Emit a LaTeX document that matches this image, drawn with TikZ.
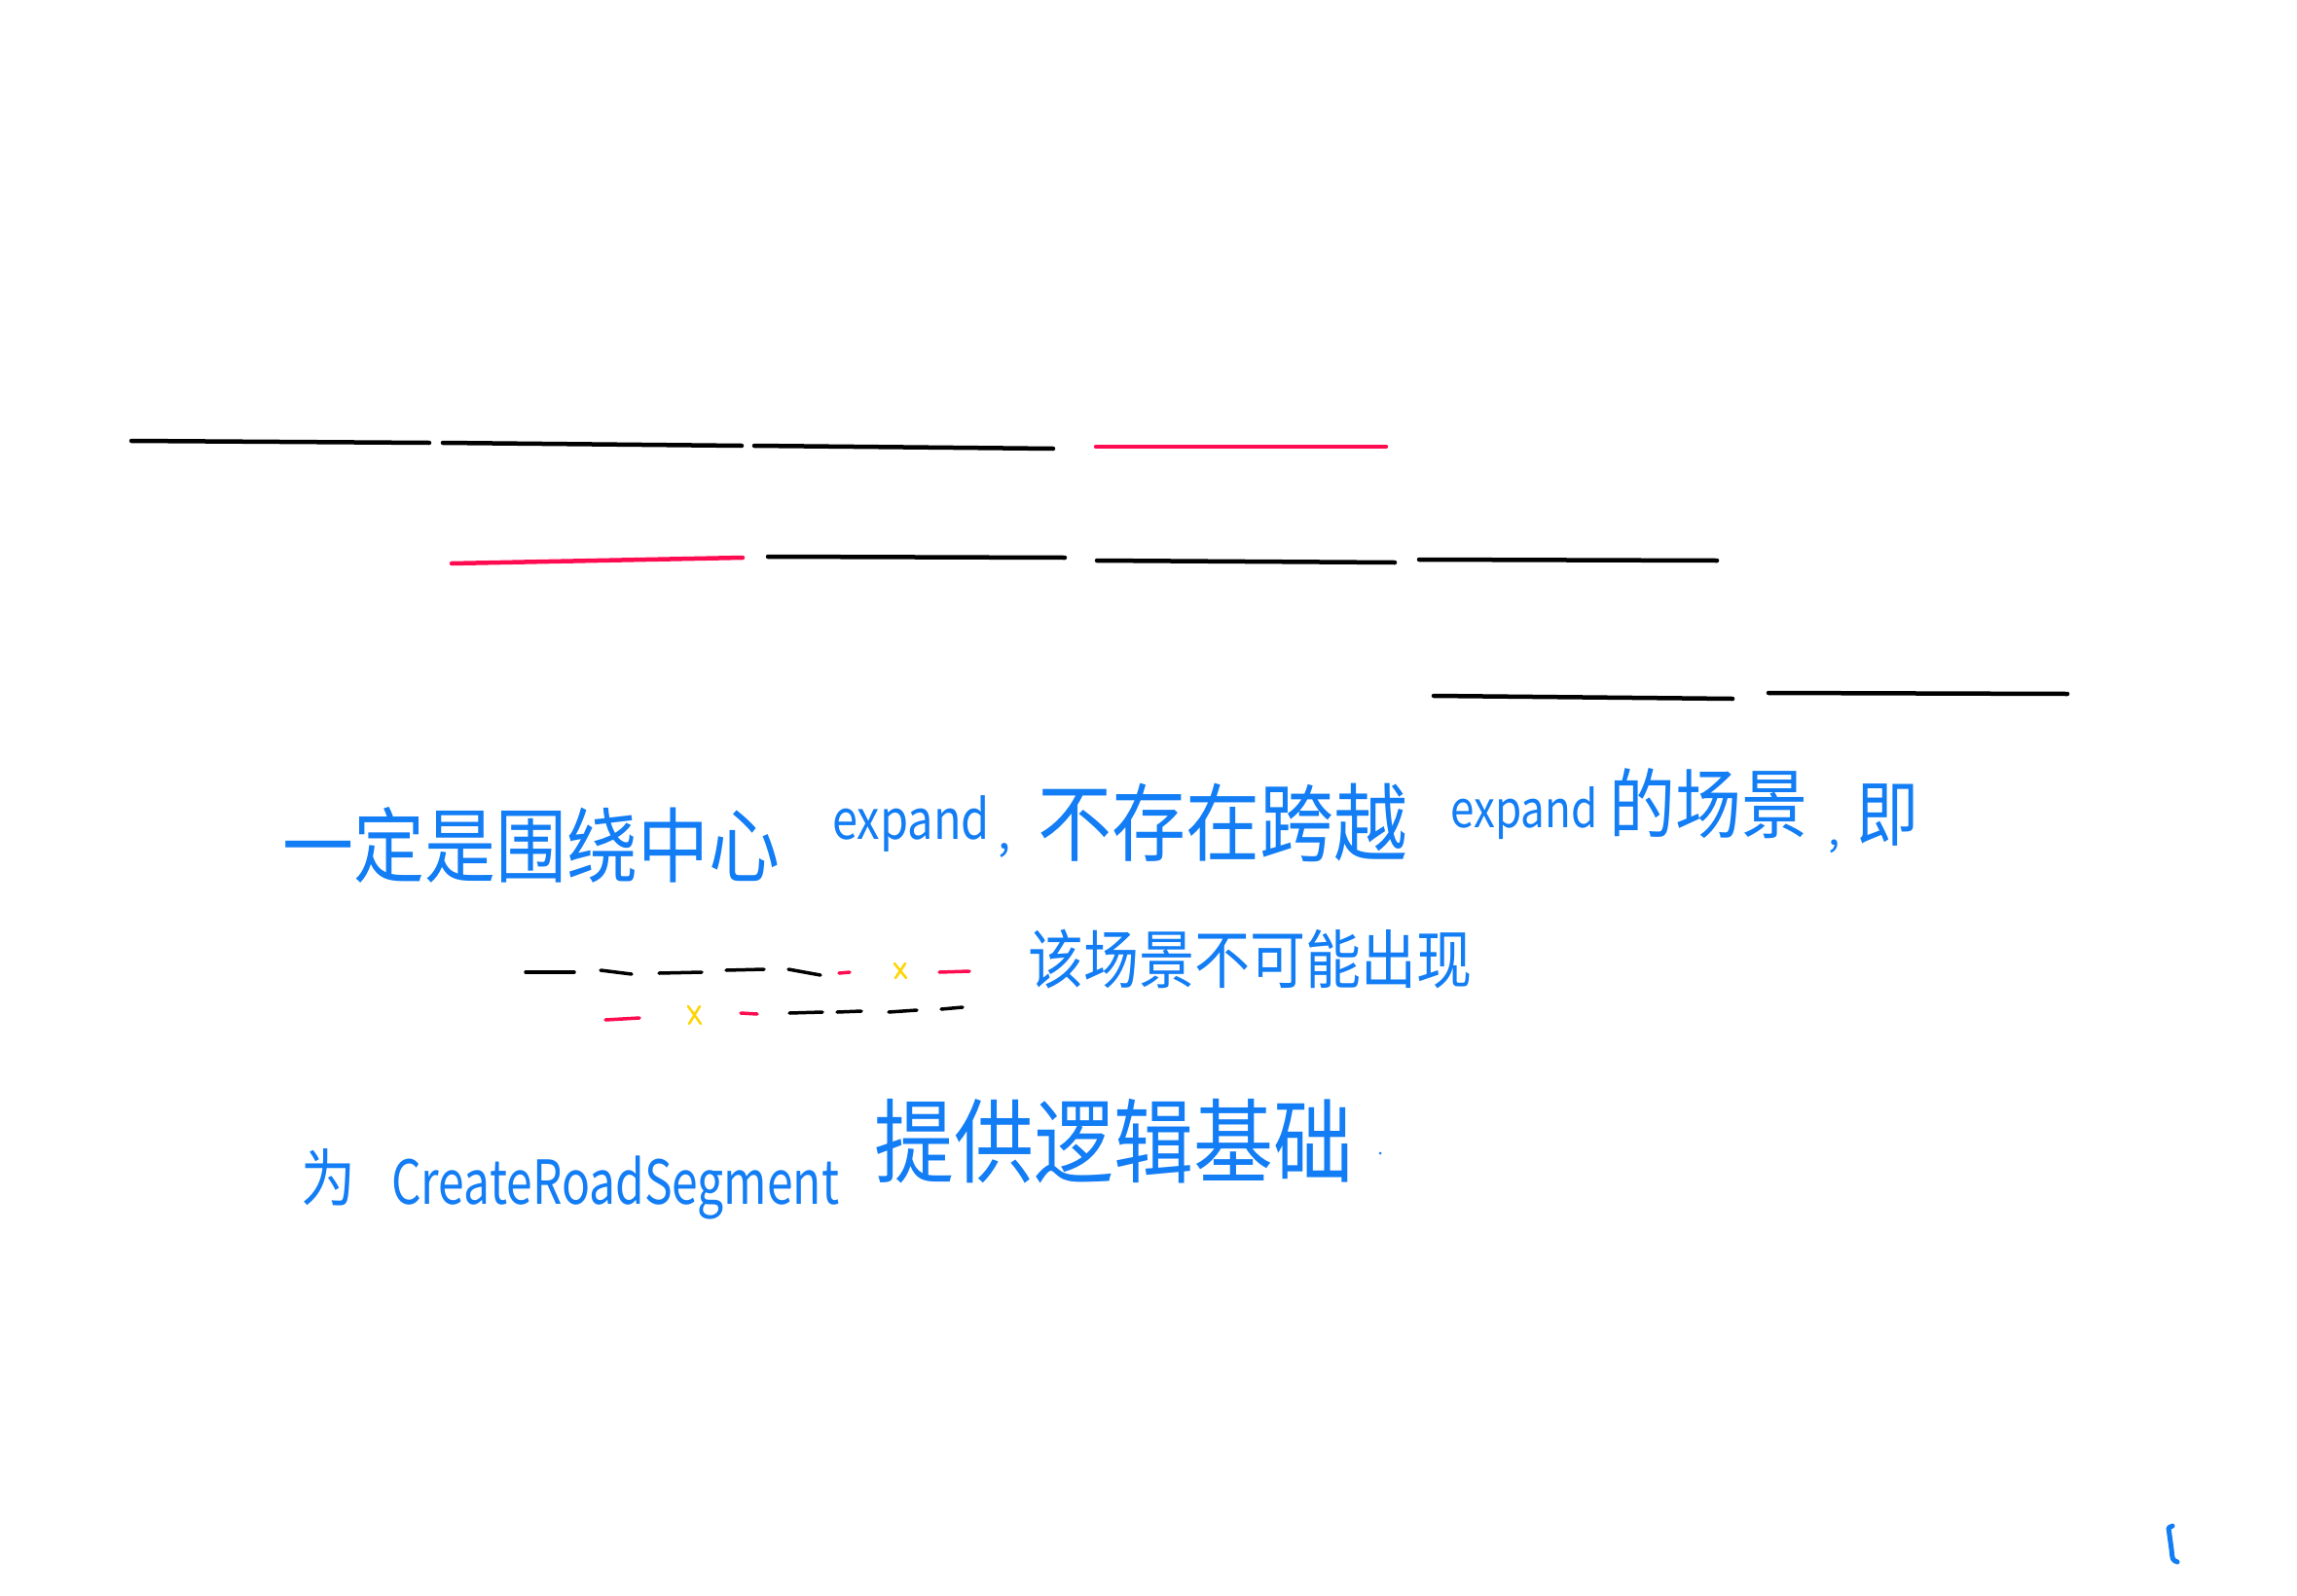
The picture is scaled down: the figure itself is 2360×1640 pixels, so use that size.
\documentclass[tikz,border=0pt]{standalone}
\usepackage{fontspec}
\usepackage{graphicx}
\newfontfamily\cjk{Noto Sans CJK SC}
\definecolor{hblue}{RGB}{18,125,245}
\definecolor{hred}{RGB}{255,12,80}
\definecolor{hyellow}{RGB}{255,212,0}
\newcommand{\fs}[1]{\fontsize{#1}{#1}\selectfont}
\newcommand{\vs}[2]{\scalebox{1}[#1]{#2}}
\begin{document}
\begin{tikzpicture}[x=1pt,y=-1pt,
  seg/.style={line width=4.5pt,line cap=round},
  dsh/.style={line width=3.5pt,line cap=round},
  cross/.style={hyellow,line width=2.5pt,line cap=round},
  hand/.style={text=hblue,inner sep=0pt,anchor=base west,font=\cjk}]
\useasboundingbox[fill=white] (0,0) rectangle (2360,1640);

% row 1
\draw[seg,black] (135,453) -- (441,455);
\draw[seg,black] (455,455) -- (762,458);
\draw[seg,black] (775,458) -- (1082,461);
\draw[seg,hred] (1126,459) -- (1424,459);
% row 2
\draw[seg,hred] (464,579) -- (763,573);
\draw[seg,black] (789,572) -- (1094,573);
\draw[seg,black] (1127,576) -- (1433,578);
\draw[seg,black] (1458,575) -- (1764,576);
% row 3
\draw[seg,black] (1473,715) -- (1780,718);
\draw[seg,black] (1817,712) -- (2124,713);

% text line 1
\node[hand] (t1a) at (290,900) {\fs{73}\vs{1.15}{一定是围绕中心}};
\node[hand] (t1b) at (855,862) {\fs{47}\vs{1.2}{expand}};
\node[hand] (t1c) at (1025,872) {\fs{47},};
\node[hand] (t1d) at (1066,878) {\fs{76}\vs{1.15}{不存在跨越}};
\node[hand] (t1e) at (1490,850) {\fs{44}\vs{1.2}{expand}};
\node[hand] (t1f) at (1653,855) {\fs{68}\vs{1.15}{的场景}};
\node[hand] (t1g) at (1878,868) {\fs{44},};
\node[hand] (t1h) at (1907,863) {\fs{64}\vs{1.15}{即}};

% dashed rows
\draw[dsh,black] (540,999) -- (590,999);
\draw[dsh,black] (617,997) -- (649,1001);
\draw[dsh,black] (677,1000) -- (721,999);
\draw[dsh,black] (746,997) -- (785,996);
\draw[dsh,black] (810,996) -- (843,1002);
\draw[dsh,hred] (862,1000) -- (873,999);
\draw[cross] (919,990) -- (931,1005) (930,990) -- (920,1005);
\draw[dsh,hred] (965,999) -- (996,998);

\draw[dsh,hred] (622,1048) -- (657,1046);
\draw[cross] (707,1034) -- (720,1052) (719,1034) -- (708,1052);
\draw[dsh,hred] (761,1041) -- (778,1042);
\draw[dsh,black] (811,1041) -- (845,1040);
\draw[dsh,black] (860,1040) -- (885,1039);
\draw[dsh,black] (913,1040) -- (942,1038);
\draw[dsh,black] (967,1037) -- (989,1035);

\node[hand] (t2) at (1056,1010) {\fs{57}\vs{1.15}{该场景不可能出现}};

% text line 3
\node[hand] (t3a) at (309,1234) {\fs{56}\vs{1.15}{为}};
\node[hand] (t3b) at (402,1237) {\fs{48}\vs{1.3}{CreateRoadSegment}};
\node[hand] (t3c) at (898,1208) {\fs{82}\vs{1.15}{提供逻辑基础}};
\fill[hblue] (1418,1185) circle (1.5);

% stray mark bottom right
\draw[hblue,line width=5pt,line cap=round,line join=round]
  (2232,1568) -- (2228,1570) -- (2231,1592) .. controls (2232,1603) .. (2237,1605);
\end{tikzpicture}
\end{document}
